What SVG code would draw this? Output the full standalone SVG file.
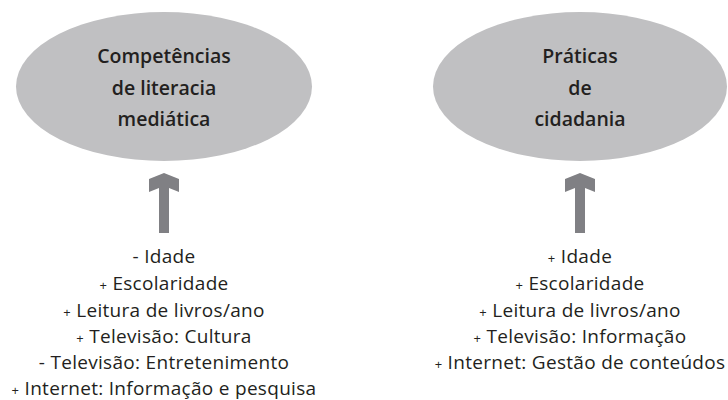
<svg xmlns="http://www.w3.org/2000/svg" width="728" height="400" viewBox="0 0 728 400">
<style>
.node ellipse{fill:#c0c0c2;}
.title{font-family:"Open Sans","Noto Sans",sans-serif;font-weight:600;font-size:19.5px;fill:#231f20;text-anchor:middle;}
.lbl{font-family:"Open Sans","Noto Sans",sans-serif;font-size:19px;fill:#231f20;text-anchor:middle;letter-spacing:0.3px;}
.pm{font-size:13px;}
.arrow{fill:#808084;}
</style>
<rect width="728" height="400" fill="#ffffff"/>
<g id="node-competencias" class="node">
<ellipse cx="164" cy="86.5" rx="148" ry="74.5"/>
<text class="title" x="164" y="63">Competências</text>
<text class="title" x="164" y="94.5">de literacia</text>
<text class="title" x="164" y="126">mediática</text>
</g>
<g id="node-praticas" class="node">
<ellipse cx="580" cy="86.5" rx="147" ry="74.5"/>
<text class="title" x="580" y="63">Práticas</text>
<text class="title" x="580" y="94.5">de</text>
<text class="title" x="580" y="126">cidadania</text>
</g>
<g id="connectors">
<polygon class="arrow" points="164,173 179,179 179,192 169,188 169,233 159,233 159,188 149,192 149,179"/>
<polygon class="arrow" points="580,173 595,179 595,192 585,188 585,233 575,233 575,188 565,192 565,179"/>
</g>
<g id="factors-left">
<text class="lbl" x="164" y="263">- Idade</text>
<text class="lbl" x="164" y="290"><tspan class="pm">+</tspan> Escolaridade</text>
<text class="lbl" x="164" y="316.5"><tspan class="pm">+</tspan> Leitura de livros/ano</text>
<text class="lbl" x="164" y="343"><tspan class="pm">+</tspan> Televisão: Cultura</text>
<text class="lbl" x="164" y="369">- Televisão: Entretenimento</text>
<text class="lbl" x="164" y="395"><tspan class="pm">+</tspan> Internet: Informação e pesquisa</text>
</g>
<g id="factors-right">
<text class="lbl" x="580" y="263"><tspan class="pm">+</tspan> Idade</text>
<text class="lbl" x="580" y="290"><tspan class="pm">+</tspan> Escolaridade</text>
<text class="lbl" x="580" y="316.5"><tspan class="pm">+</tspan> Leitura de livros/ano</text>
<text class="lbl" x="580" y="343"><tspan class="pm">+</tspan> Televisão: Informação</text>
<text class="lbl" x="580" y="369"><tspan class="pm">+</tspan> Internet: Gestão de conteúdos</text>
</g>
</svg>
